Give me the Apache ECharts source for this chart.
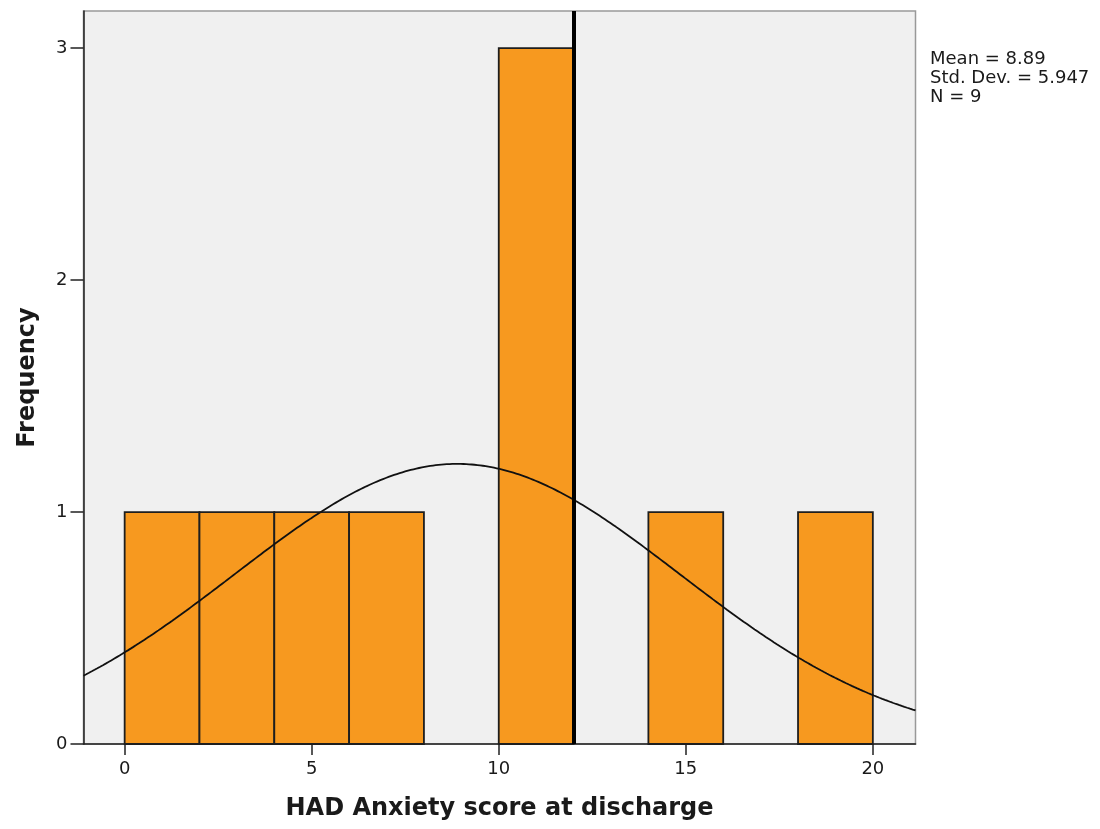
<!DOCTYPE html>
<html>
<head>
<meta charset="utf-8">
<script src="https://cdn.jsdelivr.net/npm/echarts@6/dist/echarts.min.js"></script>
<style>
  html, body { margin: 0; padding: 0; background: #ffffff; }
  #chart { width: 1100px; height: 829px; }
</style>
</head>
<body>
<div id="chart"></div>
<script>
// Histogram of HAD Anxiety score at discharge
const binStarts = [0, 2, 4, 6, 8, 10, 12, 14, 16, 18];
const binCounts = [1, 1, 1, 1, 0, 3, 0, 1, 0, 1];
const binWidth = 2;
const xTicks = [0, 5, 10, 15, 20];
const yTicks = [0, 1, 2, 3];
const referenceScore = 12;
const statMean = 8.89;
const statSD = 5.947;
const statN = 9;
const statLines = ['Mean = 8.89', 'Std. Dev. = 5.947', 'N = 9'];

const xMin = -1.1, xMax = 21.14;
const yMin = 0, yMax = 3.16;

// Fitted normal curve, scaled to histogram counts (N * bin width * density)
const curve = [];
const steps = 300;
for (let i = 0; i <= steps; i++) {
  const x = xMin + (xMax - xMin) * i / steps;
  const z = (x - statMean) / statSD;
  const y = statN * binWidth * Math.exp(-0.5 * z * z) / (statSD * Math.sqrt(2 * Math.PI));
  curve.push([x, y]);
}

const barData = binStarts
  .map((s, i) => [s, s + binWidth, binCounts[i]])
  .filter(d => d[2] > 0);

const font = '"DejaVu Sans", Verdana, sans-serif';
const chart = echarts.init(document.getElementById('chart'), null, { renderer: 'canvas' });

chart.setOption({
  animation: false,
  backgroundColor: '#ffffff',
  grid: {
    left: 83.5, right: 184.5, top: 11, bottom: 85,
    show: true, backgroundColor: '#F0F0F0',
    borderColor: '#999999', borderWidth: 1.5
  },
  xAxis: {
    type: 'value', min: xMin, max: xMax,
    name: 'HAD Anxiety score at discharge',
    nameLocation: 'middle', nameGap: 53,
    nameTextStyle: { fontFamily: font, fontSize: 24, fontWeight: 'bold', color: '#1a1a1a' },
    axisLine: { show: true, onZero: false, lineStyle: { color: '#222', width: 1.5 } },
    axisTick: { show: true, length: 11, customValues: xTicks, lineStyle: { color: '#222', width: 1.5 } },
    axisLabel: { customValues: xTicks, fontFamily: font, fontSize: 18, color: '#1a1a1a', margin: 16 },
    splitLine: { show: false }
  },
  yAxis: {
    type: 'value', min: yMin, max: yMax,
    name: 'Frequency',
    nameLocation: 'middle', nameGap: 44,
    nameTextStyle: { fontFamily: font, fontSize: 24, fontWeight: 'bold', color: '#1a1a1a' },
    axisLine: { show: true, onZero: false, lineStyle: { color: '#222', width: 1.5 } },
    axisTick: { show: true, length: 13, customValues: yTicks, lineStyle: { color: '#222', width: 1.5 } },
    axisLabel: { customValues: yTicks, fontFamily: font, fontSize: 18, color: '#1a1a1a', margin: 16 },
    splitLine: { show: false }
  },
  graphic: [{
    type: 'text', left: 930, top: 50,
    style: {
      text: statLines.join('\n'), fontFamily: font, fontSize: 18,
      lineHeight: 19, fill: '#1a1a1a'
    }
  }],
  series: [
    {
      type: 'custom',
      data: barData,
      encode: { x: [0, 1], y: 2 },
      renderItem: function (params, api) {
        const p0 = api.coord([api.value(0), api.value(2)]);
        const p1 = api.coord([api.value(1), 0]);
        return {
          type: 'rect',
          shape: { x: p0[0], y: p0[1], width: p1[0] - p0[0], height: p1[1] - p0[1] },
          style: { fill: '#F7991F', stroke: '#1e1e1e', lineWidth: 1.8 }
        };
      },
      z: 2
    },
    {
      type: 'line',
      data: curve,
      showSymbol: false,
      smooth: false,
      lineStyle: { color: '#111', width: 1.8 },
      z: 3,
      markLine: {
        silent: true,
        symbol: 'none',
        label: { show: false },
        lineStyle: { color: '#000', width: 4, type: 'solid' },
        data: [[{ coord: [referenceScore, yMin] }, { coord: [referenceScore, yMax] }]]
      }
    }
  ]
});
</script>
</body>
</html>
